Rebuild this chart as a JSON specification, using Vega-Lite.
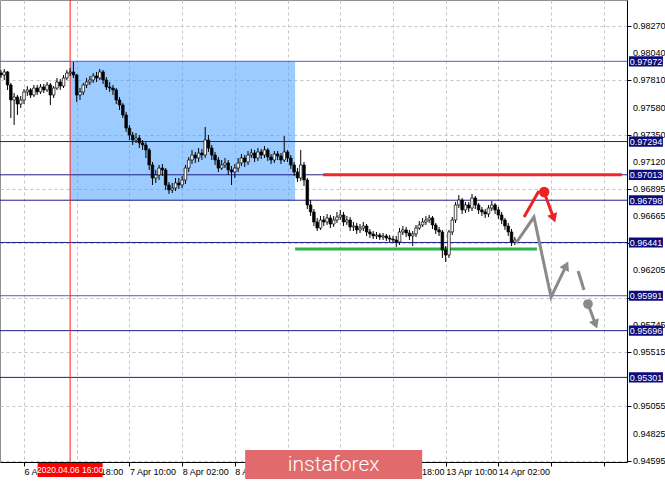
{
"$schema": "https://vega.github.io/schema/vega-lite/v6.json",
"width": 627, "height": 462, "autosize": "none",
"padding": {"left": 0, "top": 0, "right": 38, "bottom": 19},
"background": "#ffffff",
"view": {"stroke": "#909090", "strokeWidth": 1},
"config": {"scale": {"continuousPadding": 0}, "axis": {"labelOverlap": false, "labelBound": false, "labelFlush": false}},
"datasets": {
"candles": [
{"t":-7,"o":0.97873,"h":0.97899,"l":0.97831,"c":0.97856},
{"t":-6,"o":0.97856,"h":0.97907,"l":0.97814,"c":0.97882},
{"t":-5,"o":0.97882,"h":0.97890,"l":0.97730,"c":0.97772},
{"t":-4,"o":0.97772,"h":0.97789,"l":0.97493,"c":0.97645},
{"t":-3,"o":0.97645,"h":0.97704,"l":0.97434,"c":0.97670},
{"t":-2,"o":0.97670,"h":0.97687,"l":0.97518,"c":0.97611},
{"t":-1,"o":0.97611,"h":0.97679,"l":0.97577,"c":0.97645},
{"t":0,"o":0.97645,"h":0.97738,"l":0.97611,"c":0.97713},
{"t":1,"o":0.97713,"h":0.97763,"l":0.97679,"c":0.97730},
{"t":2,"o":0.97730,"h":0.97746,"l":0.97662,"c":0.97687},
{"t":3,"o":0.97687,"h":0.97772,"l":0.97670,"c":0.97746},
{"t":4,"o":0.97746,"h":0.97772,"l":0.97687,"c":0.97713},
{"t":5,"o":0.97713,"h":0.97780,"l":0.97696,"c":0.97755},
{"t":6,"o":0.97755,"h":0.97780,"l":0.97704,"c":0.97730},
{"t":7,"o":0.97730,"h":0.97797,"l":0.97713,"c":0.97772},
{"t":8,"o":0.97772,"h":0.97789,"l":0.97603,"c":0.97687},
{"t":9,"o":0.97687,"h":0.97763,"l":0.97662,"c":0.97746},
{"t":10,"o":0.97746,"h":0.97831,"l":0.97730,"c":0.97797},
{"t":11,"o":0.97797,"h":0.97822,"l":0.97730,"c":0.97763},
{"t":12,"o":0.97763,"h":0.97856,"l":0.97746,"c":0.97831},
{"t":13,"o":0.97831,"h":0.97899,"l":0.97814,"c":0.97873},
{"t":14,"o":0.97873,"h":0.97915,"l":0.97848,"c":0.97882},
{"t":15,"o":0.97882,"h":0.97966,"l":0.97831,"c":0.97856},
{"t":16,"o":0.97856,"h":0.97865,"l":0.97628,"c":0.97687},
{"t":17,"o":0.97687,"h":0.97746,"l":0.97645,"c":0.97713},
{"t":18,"o":0.97713,"h":0.97789,"l":0.97687,"c":0.97772},
{"t":19,"o":0.97772,"h":0.97831,"l":0.97746,"c":0.97797},
{"t":20,"o":0.97797,"h":0.97848,"l":0.97772,"c":0.97814},
{"t":21,"o":0.97814,"h":0.97873,"l":0.97789,"c":0.97848},
{"t":22,"o":0.97848,"h":0.97882,"l":0.97797,"c":0.97831},
{"t":23,"o":0.97831,"h":0.97907,"l":0.97814,"c":0.97882},
{"t":24,"o":0.97882,"h":0.97899,"l":0.97780,"c":0.97814},
{"t":25,"o":0.97814,"h":0.97839,"l":0.97730,"c":0.97755},
{"t":26,"o":0.97755,"h":0.97797,"l":0.97713,"c":0.97746},
{"t":27,"o":0.97746,"h":0.97772,"l":0.97687,"c":0.97730},
{"t":28,"o":0.97730,"h":0.97746,"l":0.97611,"c":0.97645},
{"t":29,"o":0.97645,"h":0.97670,"l":0.97561,"c":0.97603},
{"t":30,"o":0.97603,"h":0.97620,"l":0.97493,"c":0.97518},
{"t":31,"o":0.97518,"h":0.97544,"l":0.97375,"c":0.97408},
{"t":32,"o":0.97408,"h":0.97434,"l":0.97307,"c":0.97349},
{"t":33,"o":0.97349,"h":0.97375,"l":0.97265,"c":0.97307},
{"t":34,"o":0.97307,"h":0.97366,"l":0.97282,"c":0.97324},
{"t":35,"o":0.97324,"h":0.97349,"l":0.97239,"c":0.97282},
{"t":36,"o":0.97282,"h":0.97307,"l":0.97223,"c":0.97265},
{"t":37,"o":0.97265,"h":0.97290,"l":0.97155,"c":0.97223},
{"t":38,"o":0.97223,"h":0.97239,"l":0.97054,"c":0.97096},
{"t":39,"o":0.97096,"h":0.97121,"l":0.96927,"c":0.96986},
{"t":40,"o":0.96986,"h":0.97054,"l":0.96944,"c":0.97011},
{"t":41,"o":0.97011,"h":0.97096,"l":0.96969,"c":0.97070},
{"t":42,"o":0.97070,"h":0.97104,"l":0.97003,"c":0.97054},
{"t":43,"o":0.97054,"h":0.97070,"l":0.96885,"c":0.96927},
{"t":44,"o":0.96927,"h":0.96952,"l":0.96851,"c":0.96885},
{"t":45,"o":0.96885,"h":0.96944,"l":0.96859,"c":0.96901},
{"t":46,"o":0.96901,"h":0.96986,"l":0.96876,"c":0.96944},
{"t":47,"o":0.96944,"h":0.96986,"l":0.96893,"c":0.96927},
{"t":48,"o":0.96927,"h":0.97003,"l":0.96901,"c":0.96969},
{"t":49,"o":0.96969,"h":0.97096,"l":0.96935,"c":0.97070},
{"t":50,"o":0.97070,"h":0.97163,"l":0.97037,"c":0.97138},
{"t":51,"o":0.97138,"h":0.97223,"l":0.97104,"c":0.97180},
{"t":52,"o":0.97180,"h":0.97206,"l":0.97113,"c":0.97155},
{"t":53,"o":0.97155,"h":0.97239,"l":0.97121,"c":0.97197},
{"t":54,"o":0.97197,"h":0.97231,"l":0.97138,"c":0.97180},
{"t":55,"o":0.97180,"h":0.97417,"l":0.97155,"c":0.97307},
{"t":56,"o":0.97307,"h":0.97349,"l":0.97206,"c":0.97239},
{"t":57,"o":0.97239,"h":0.97265,"l":0.97138,"c":0.97180},
{"t":58,"o":0.97180,"h":0.97206,"l":0.97096,"c":0.97138},
{"t":59,"o":0.97138,"h":0.97163,"l":0.97037,"c":0.97070},
{"t":60,"o":0.97070,"h":0.97138,"l":0.97054,"c":0.97096},
{"t":61,"o":0.97096,"h":0.97155,"l":0.97070,"c":0.97113},
{"t":62,"o":0.97113,"h":0.97138,"l":0.97011,"c":0.97054},
{"t":63,"o":0.97054,"h":0.97087,"l":0.96927,"c":0.97037},
{"t":64,"o":0.97037,"h":0.97104,"l":0.96986,"c":0.97070},
{"t":65,"o":0.97070,"h":0.97155,"l":0.97037,"c":0.97113},
{"t":66,"o":0.97113,"h":0.97189,"l":0.97087,"c":0.97155},
{"t":67,"o":0.97155,"h":0.97180,"l":0.97079,"c":0.97121},
{"t":68,"o":0.97121,"h":0.97214,"l":0.97096,"c":0.97180},
{"t":69,"o":0.97180,"h":0.97231,"l":0.97155,"c":0.97197},
{"t":70,"o":0.97197,"h":0.97223,"l":0.97121,"c":0.97155},
{"t":71,"o":0.97155,"h":0.97239,"l":0.97130,"c":0.97206},
{"t":72,"o":0.97206,"h":0.97231,"l":0.97146,"c":0.97180},
{"t":73,"o":0.97180,"h":0.97256,"l":0.97155,"c":0.97223},
{"t":74,"o":0.97223,"h":0.97239,"l":0.97130,"c":0.97163},
{"t":75,"o":0.97163,"h":0.97189,"l":0.97104,"c":0.97138},
{"t":76,"o":0.97138,"h":0.97214,"l":0.97113,"c":0.97189},
{"t":77,"o":0.97189,"h":0.97214,"l":0.97138,"c":0.97172},
{"t":78,"o":0.97172,"h":0.97197,"l":0.97104,"c":0.97138},
{"t":79,"o":0.97138,"h":0.97341,"l":0.97121,"c":0.97206},
{"t":80,"o":0.97206,"h":0.97223,"l":0.97121,"c":0.97155},
{"t":81,"o":0.97155,"h":0.97180,"l":0.97062,"c":0.97096},
{"t":82,"o":0.97096,"h":0.97121,"l":0.97003,"c":0.97037},
{"t":83,"o":0.97037,"h":0.97070,"l":0.96952,"c":0.96986},
{"t":84,"o":0.96986,"h":0.97223,"l":0.96961,"c":0.97096},
{"t":85,"o":0.97096,"h":0.97121,"l":0.96918,"c":0.96969},
{"t":86,"o":0.96969,"h":0.96986,"l":0.96724,"c":0.96758},
{"t":87,"o":0.96758,"h":0.96800,"l":0.96665,"c":0.96699},
{"t":88,"o":0.96699,"h":0.96724,"l":0.96580,"c":0.96614},
{"t":89,"o":0.96614,"h":0.96648,"l":0.96538,"c":0.96563},
{"t":90,"o":0.96563,"h":0.96665,"l":0.96547,"c":0.96631},
{"t":91,"o":0.96631,"h":0.96665,"l":0.96580,"c":0.96614},
{"t":92,"o":0.96614,"h":0.96682,"l":0.96589,"c":0.96648},
{"t":93,"o":0.96648,"h":0.96673,"l":0.96563,"c":0.96597},
{"t":94,"o":0.96597,"h":0.96665,"l":0.96572,"c":0.96631},
{"t":95,"o":0.96631,"h":0.96699,"l":0.96606,"c":0.96656},
{"t":96,"o":0.96656,"h":0.96716,"l":0.96631,"c":0.96673},
{"t":97,"o":0.96673,"h":0.96699,"l":0.96580,"c":0.96614},
{"t":98,"o":0.96614,"h":0.96665,"l":0.96589,"c":0.96631},
{"t":99,"o":0.96631,"h":0.96656,"l":0.96538,"c":0.96572},
{"t":100,"o":0.96572,"h":0.96614,"l":0.96538,"c":0.96580},
{"t":101,"o":0.96580,"h":0.96606,"l":0.96513,"c":0.96547},
{"t":102,"o":0.96547,"h":0.96597,"l":0.96521,"c":0.96563},
{"t":103,"o":0.96563,"h":0.96614,"l":0.96538,"c":0.96580},
{"t":104,"o":0.96580,"h":0.96597,"l":0.96496,"c":0.96530},
{"t":105,"o":0.96530,"h":0.96555,"l":0.96479,"c":0.96513},
{"t":106,"o":0.96513,"h":0.96538,"l":0.96470,"c":0.96496},
{"t":107,"o":0.96496,"h":0.96530,"l":0.96470,"c":0.96504},
{"t":108,"o":0.96504,"h":0.96521,"l":0.96462,"c":0.96487},
{"t":109,"o":0.96487,"h":0.96521,"l":0.96462,"c":0.96496},
{"t":110,"o":0.96496,"h":0.96513,"l":0.96454,"c":0.96479},
{"t":111,"o":0.96479,"h":0.96504,"l":0.96445,"c":0.96470},
{"t":112,"o":0.96470,"h":0.96496,"l":0.96437,"c":0.96462},
{"t":113,"o":0.96462,"h":0.96496,"l":0.96403,"c":0.96445},
{"t":114,"o":0.96445,"h":0.96563,"l":0.96420,"c":0.96530},
{"t":115,"o":0.96530,"h":0.96580,"l":0.96504,"c":0.96547},
{"t":116,"o":0.96547,"h":0.96572,"l":0.96487,"c":0.96521},
{"t":117,"o":0.96521,"h":0.96547,"l":0.96462,"c":0.96496},
{"t":118,"o":0.96496,"h":0.96538,"l":0.96411,"c":0.96513},
{"t":119,"o":0.96513,"h":0.96589,"l":0.96487,"c":0.96563},
{"t":120,"o":0.96563,"h":0.96623,"l":0.96547,"c":0.96589},
{"t":121,"o":0.96589,"h":0.96648,"l":0.96572,"c":0.96614},
{"t":122,"o":0.96614,"h":0.96665,"l":0.96589,"c":0.96631},
{"t":123,"o":0.96631,"h":0.96673,"l":0.96606,"c":0.96648},
{"t":124,"o":0.96648,"h":0.96665,"l":0.96555,"c":0.96589},
{"t":125,"o":0.96589,"h":0.96606,"l":0.96513,"c":0.96547},
{"t":126,"o":0.96547,"h":0.96572,"l":0.96496,"c":0.96530},
{"t":127,"o":0.96530,"h":0.96547,"l":0.96310,"c":0.96378},
{"t":128,"o":0.96378,"h":0.96411,"l":0.96276,"c":0.96335},
{"t":129,"o":0.96335,"h":0.96547,"l":0.96310,"c":0.96530},
{"t":130,"o":0.96530,"h":0.96656,"l":0.96504,"c":0.96631},
{"t":131,"o":0.96631,"h":0.96783,"l":0.96606,"c":0.96758},
{"t":132,"o":0.96758,"h":0.96842,"l":0.96732,"c":0.96800},
{"t":133,"o":0.96800,"h":0.96817,"l":0.96682,"c":0.96716},
{"t":134,"o":0.96716,"h":0.96783,"l":0.96690,"c":0.96758},
{"t":135,"o":0.96758,"h":0.96783,"l":0.96699,"c":0.96732},
{"t":136,"o":0.96732,"h":0.96851,"l":0.96707,"c":0.96817},
{"t":137,"o":0.96817,"h":0.96834,"l":0.96724,"c":0.96758},
{"t":138,"o":0.96758,"h":0.96775,"l":0.96682,"c":0.96716},
{"t":139,"o":0.96716,"h":0.96741,"l":0.96665,"c":0.96699},
{"t":140,"o":0.96699,"h":0.96724,"l":0.96648,"c":0.96682},
{"t":141,"o":0.96682,"h":0.96758,"l":0.96656,"c":0.96732},
{"t":142,"o":0.96732,"h":0.96792,"l":0.96707,"c":0.96758},
{"t":143,"o":0.96758,"h":0.96775,"l":0.96682,"c":0.96716},
{"t":144,"o":0.96716,"h":0.96741,"l":0.96639,"c":0.96673},
{"t":145,"o":0.96673,"h":0.96699,"l":0.96597,"c":0.96631},
{"t":146,"o":0.96631,"h":0.96648,"l":0.96547,"c":0.96580},
{"t":147,"o":0.96580,"h":0.96606,"l":0.96496,"c":0.96530},
{"t":148,"o":0.96530,"h":0.96555,"l":0.96411,"c":0.96445},
{"t":149,"o":0.96445,"h":0.96487,"l":0.96420,"c":0.96462}
],
"levels": [
{"p":0.97972,"lab":"0.97972"},
{"p":0.97294,"lab":"0.97294"},
{"p":0.97013,"lab":"0.97013"},
{"p":0.96798,"lab":"0.96798"},
{"p":0.96441,"lab":"0.96441"},
{"p":0.95991,"lab":"0.95991"},
{"p":0.95696,"lab":"0.95696"},
{"p":0.95301,"lab":"0.95301"}
],
"yticks": [
{"v":0.9827},{"v":0.9804},{"v":0.9781},{"v":0.9758},{"v":0.9735},{"v":0.9712},{"v":0.96895},{"v":0.96665},
{"v":0.96205},{"v":0.95745},{"v":0.95515},{"v":0.95055},{"v":0.94825},{"v":0.94595}
],
"arrows": [
{"g":"gray1","o":1,"t":149.4,"p":0.96437},
{"g":"gray1","o":2,"t":154.8,"p":0.96656},
{"g":"gray1","o":3,"t":160.0,"p":0.95980},
{"g":"gray1","o":4,"t":164.6,"p":0.96246},
{"g":"gray2","o":1,"t":168.2,"p":0.96200},
{"g":"gray2","o":2,"t":170.0,"p":0.96040},
{"g":"gray3","o":1,"t":171.2,"p":0.95921},
{"g":"gray3","o":2,"t":173.5,"p":0.95750},
{"g":"red1","o":1,"t":151.8,"p":0.96656},
{"g":"red1","o":2,"t":156.3,"p":0.96876},
{"g":"red2","o":1,"t":158.2,"p":0.96842},
{"g":"red2","o":2,"t":160.8,"p":0.96645}
]
},
"layer": [
{
"data": {"values": [{"t1": 14, "t2": 82.3, "p1": 0.97972, "p2": 0.96798}]},
"mark": {"type": "rect", "fill": "#4aa3ff", "opacity": 0.55},
"encoding": {
"x": {"field": "t1", "type": "quantitative", "title": null, "scale": {"domain": [-7.29, 183.05], "nice": false, "zero": false, "padding": 0},
"axis": {"title": null, "orient": "bottom", "values": [-16,-8,0,8,16,24,32,40,48,56,64,72,80,88,96,104,112,120,128,136,144,152,160,168,176],
"labelExpr": "datum.value==-16?'3 Apr 10:00':datum.value==0?'6 Apr 02:00':datum.value==16?'6 Apr 18:00':datum.value==32?'7 Apr 10:00':datum.value==48?'8 Apr 02:00':datum.value==64?'8 Apr 18:00':datum.value==112?'10 Apr 18:00':datum.value==128?'13 Apr 10:00':datum.value==144?'14 Apr 02:00':''",
"grid": true, "gridColor": "#c4c4c4", "gridDash": [3, 3], "domainColor": "#000000", "tickColor": "#000000", "tickSize": 4,
"labelAlign": "left", "labelBaseline": "top", "labelPadding": 1, "labelFont": "Liberation Sans", "labelFontSize": 9, "labelColor": "#000000",
"labelOverlap": false, "labelBound": false, "labelFlush": false}},
"x2": {"field": "t2"},
"y": {"field": "p1", "type": "quantitative", "title": null, "scale": {"domain": [0.94586, 0.9849], "nice": false, "zero": false, "padding": 0},
"axis": {"title": null, "orient": "right", "values": [0.9827,0.9804,0.9781,0.9758,0.9735,0.9712,0.96895,0.96665,0.96435,0.96205,0.95975,0.95745,0.95515,0.95285,0.95055,0.94825,0.94595],
"grid": true, "gridColor": "#c4c4c4", "gridDash": [3, 3], "domainColor": "#000000", "tickColor": "#000000", "tickSize": 4, "labels": false}},
"y2": {"field": "p2"}
}
},
{
"data": {"name": "yticks"},
"mark": {"type": "text", "color": "#000000", "font": "Liberation Sans", "fontSize": 9, "align": "left", "baseline": "middle", "dx": 6},
"encoding": {"x": {"datum": 183.05, "type": "quantitative", "title": null, "scale": {"domain": [-7.29, 183.05], "nice": false, "zero": false, "padding": 0}},
"y": {"field": "v", "type": "quantitative", "title": null, "scale": {"domain": [0.94586, 0.9849], "nice": false, "zero": false, "padding": 0}},
"text": {"field": "v", "type": "quantitative", "format": ".5f"}}
},
{
"data": {"name": "levels"},
"transform": [{"filter": "datum.p == 0.97972 || datum.p == 0.95991"}],
"mark": {"type": "rule", "color": "#5a5ad0", "strokeWidth": 1},
"encoding": {"y": {"field": "p", "type": "quantitative", "title": null, "scale": {"domain": [0.94586, 0.9849], "nice": false, "zero": false, "padding": 0}}}
},
{
"data": {"name": "levels"},
"transform": [{"filter": "datum.p != 0.97972 && datum.p != 0.95991"}],
"mark": {"type": "rule", "color": "#1f1f88", "strokeWidth": 1},
"encoding": {"y": {"field": "p", "type": "quantitative", "title": null, "scale": {"domain": [0.94586, 0.9849], "nice": false, "zero": false, "padding": 0}}}
},
{
"data": {"values": [{"t": 14}]},
"mark": {"type": "rule", "color": "#ff1a1a", "strokeWidth": 1},
"encoding": {"x": {"field": "t", "type": "quantitative", "title": null, "scale": {"domain": [-7.29, 183.05], "nice": false, "zero": false, "padding": 0}}}
},
{
"data": {"values": [{"t1": 90.8, "t2": 181.5, "p": 0.97013}]},
"mark": {"type": "rule", "color": "#f02828", "strokeWidth": 3},
"encoding": {"x": {"field": "t1", "type": "quantitative", "title": null, "scale": {"domain": [-7.29, 183.05], "nice": false, "zero": false, "padding": 0}}, "x2": {"field": "t2"},
"y": {"field": "p", "type": "quantitative", "title": null, "scale": {"domain": [0.94586, 0.9849], "nice": false, "zero": false, "padding": 0}}}
},
{
"data": {"values": [{"t1": 82.3, "t2": 155.7, "p": 0.96386}]},
"mark": {"type": "rule", "color": "#2eb24a", "strokeWidth": 3},
"encoding": {"x": {"field": "t1", "type": "quantitative", "title": null, "scale": {"domain": [-7.29, 183.05], "nice": false, "zero": false, "padding": 0}}, "x2": {"field": "t2"},
"y": {"field": "p", "type": "quantitative", "title": null, "scale": {"domain": [0.94586, 0.9849], "nice": false, "zero": false, "padding": 0}}}
},
{
"data": {"name": "candles"},
"mark": {"type": "rule", "color": "#000000", "strokeWidth": 1},
"encoding": {"x": {"field": "t", "type": "quantitative", "title": null, "scale": {"domain": [-7.29, 183.05], "nice": false, "zero": false, "padding": 0}},
"y": {"field": "l", "type": "quantitative", "title": null, "scale": {"domain": [0.94586, 0.9849], "nice": false, "zero": false, "padding": 0}}, "y2": {"field": "h"}}
},
{
"data": {"name": "candles"},
"mark": {"type": "bar", "size": 2.6, "stroke": "#000000", "strokeWidth": 0.7},
"encoding": {"x": {"field": "t", "type": "quantitative", "title": null, "scale": {"domain": [-7.29, 183.05], "nice": false, "zero": false, "padding": 0}},
"y": {"field": "o", "type": "quantitative", "title": null, "scale": {"domain": [0.94586, 0.9849], "nice": false, "zero": false, "padding": 0}}, "y2": {"field": "c"},
"fill": {"condition": {"test": "datum.c < datum.o", "value": "#000000"}, "value": "#ffffff"}}
},
{
"data": {"name": "arrows"},
"transform": [{"filter": "indexof(datum.g, 'gray') == 0"}],
"mark": {"type": "line", "color": "#8a8a8a", "strokeWidth": 3, "strokeCap": "butt"},
"encoding": {"x": {"field": "t", "type": "quantitative", "title": null, "scale": {"domain": [-7.29, 183.05], "nice": false, "zero": false, "padding": 0}},
"y": {"field": "p", "type": "quantitative", "title": null, "scale": {"domain": [0.94586, 0.9849], "nice": false, "zero": false, "padding": 0}}, "detail": {"field": "g"}, "order": {"field": "o"}}
},
{
"data": {"name": "arrows"},
"transform": [{"filter": "indexof(datum.g, 'red') == 0"}],
"mark": {"type": "line", "color": "#ee2222", "strokeWidth": 3, "strokeCap": "butt"},
"encoding": {"x": {"field": "t", "type": "quantitative", "title": null, "scale": {"domain": [-7.29, 183.05], "nice": false, "zero": false, "padding": 0}},
"y": {"field": "p", "type": "quantitative", "title": null, "scale": {"domain": [0.94586, 0.9849], "nice": false, "zero": false, "padding": 0}}, "detail": {"field": "g"}, "order": {"field": "o"}}
},
{
"data": {"values": [{"t": 164.6, "p": 0.96246}]},
"mark": {"type": "point", "shape": "triangle-up", "filled": true, "color": "#8a8a8a", "size": 110, "angle": 26, "opacity": 1},
"encoding": {"x": {"field": "t", "type": "quantitative", "title": null, "scale": {"domain": [-7.29, 183.05], "nice": false, "zero": false, "padding": 0}},
"y": {"field": "p", "type": "quantitative", "title": null, "scale": {"domain": [0.94586, 0.9849], "nice": false, "zero": false, "padding": 0}}}
},
{
"data": {"values": [{"t": 173.5, "p": 0.9575}]},
"mark": {"type": "point", "shape": "triangle-up", "filled": true, "color": "#8a8a8a", "size": 110, "angle": 159, "opacity": 1},
"encoding": {"x": {"field": "t", "type": "quantitative", "title": null, "scale": {"domain": [-7.29, 183.05], "nice": false, "zero": false, "padding": 0}},
"y": {"field": "p", "type": "quantitative", "title": null, "scale": {"domain": [0.94586, 0.9849], "nice": false, "zero": false, "padding": 0}}}
},
{
"data": {"values": [{"t": 160.8, "p": 0.96645}]},
"mark": {"type": "point", "shape": "triangle-up", "filled": true, "color": "#ee2222", "size": 110, "angle": 160, "opacity": 1},
"encoding": {"x": {"field": "t", "type": "quantitative", "title": null, "scale": {"domain": [-7.29, 183.05], "nice": false, "zero": false, "padding": 0}},
"y": {"field": "p", "type": "quantitative", "title": null, "scale": {"domain": [0.94586, 0.9849], "nice": false, "zero": false, "padding": 0}}}
},
{
"data": {"values": [{"t": 171.2, "p": 0.95921}]},
"mark": {"type": "point", "shape": "circle", "filled": true, "color": "#8a8a8a", "size": 95, "opacity": 1},
"encoding": {"x": {"field": "t", "type": "quantitative", "title": null, "scale": {"domain": [-7.29, 183.05], "nice": false, "zero": false, "padding": 0}},
"y": {"field": "p", "type": "quantitative", "title": null, "scale": {"domain": [0.94586, 0.9849], "nice": false, "zero": false, "padding": 0}}}
},
{
"data": {"values": [{"t": 157.9, "p": 0.96868}]},
"mark": {"type": "point", "shape": "circle", "filled": true, "color": "#ee2222", "size": 110, "opacity": 1},
"encoding": {"x": {"field": "t", "type": "quantitative", "title": null, "scale": {"domain": [-7.29, 183.05], "nice": false, "zero": false, "padding": 0}},
"y": {"field": "p", "type": "quantitative", "title": null, "scale": {"domain": [0.94586, 0.9849], "nice": false, "zero": false, "padding": 0}}}
},
{
"data": {"name": "levels"},
"mark": {"type": "point", "shape": "M-1,-0.3L1,-0.3L1,0.3L-1,0.3Z", "filled": true, "color": "#0c0c7c", "size": 1156, "opacity": 1},
"encoding": {"x": {"datum": 188.8, "type": "quantitative", "title": null, "scale": {"domain": [-7.29, 183.05], "nice": false, "zero": false, "padding": 0}},
"y": {"field": "p", "type": "quantitative", "title": null, "scale": {"domain": [0.94586, 0.9849], "nice": false, "zero": false, "padding": 0}}}
},
{
"data": {"name": "levels"},
"mark": {"type": "text", "color": "#ffffff", "font": "Liberation Sans", "fontSize": 9, "align": "center", "baseline": "middle", "dy": 0.5},
"encoding": {"x": {"datum": 188.8, "type": "quantitative", "title": null, "scale": {"domain": [-7.29, 183.05], "nice": false, "zero": false, "padding": 0}},
"y": {"field": "p", "type": "quantitative", "title": null, "scale": {"domain": [0.94586, 0.9849], "nice": false, "zero": false, "padding": 0}}, "text": {"field": "lab"}}
},
{
"data": {"values": [{"t": 14, "p": 0.94519, "lab": "2020.04.06 16:00"}]},
"mark": {"type": "point", "shape": "M-1,-0.215L1,-0.215L1,0.215L-1,0.215Z", "filled": true, "color": "#ff0000", "size": 4225, "opacity": 1},
"encoding": {"x": {"field": "t", "type": "quantitative", "title": null, "scale": {"domain": [-7.29, 183.05], "nice": false, "zero": false, "padding": 0}},
"y": {"field": "p", "type": "quantitative", "title": null, "scale": {"domain": [0.94586, 0.9849], "nice": false, "zero": false, "padding": 0}}}
},
{
"data": {"values": [{"t": 14, "p": 0.94519, "lab": "2020.04.06 16:00"}]},
"mark": {"type": "text", "color": "#ffffff", "font": "Liberation Sans", "fontSize": 8.5, "align": "center", "baseline": "middle"},
"encoding": {"x": {"field": "t", "type": "quantitative", "title": null, "scale": {"domain": [-7.29, 183.05], "nice": false, "zero": false, "padding": 0}},
"y": {"field": "p", "type": "quantitative", "title": null, "scale": {"domain": [0.94586, 0.9849], "nice": false, "zero": false, "padding": 0}}, "text": {"field": "lab"}}
},
{
"data": {"values": [{"t": 94.0, "p": 0.94565, "lab": "instaforex"}]},
"mark": {"type": "point", "shape": "M-1,-0.164L1,-0.164L1,0.164L-1,0.164Z", "filled": true, "color": "#e06a6c", "size": 31329, "opacity": 1},
"encoding": {"x": {"field": "t", "type": "quantitative", "title": null, "scale": {"domain": [-7.29, 183.05], "nice": false, "zero": false, "padding": 0}},
"y": {"field": "p", "type": "quantitative", "title": null, "scale": {"domain": [0.94586, 0.9849], "nice": false, "zero": false, "padding": 0}}}
},
{
"data": {"values": [{"t": 94.0, "p": 0.94565, "lab": "instaforex"}]},
"mark": {"type": "text", "color": "#ffffff", "font": "Roboto", "fontSize": 21, "fontWeight": 300, "align": "center", "baseline": "middle", "dy": 1},
"encoding": {"x": {"field": "t", "type": "quantitative", "title": null, "scale": {"domain": [-7.29, 183.05], "nice": false, "zero": false, "padding": 0}},
"y": {"field": "p", "type": "quantitative", "title": null, "scale": {"domain": [0.94586, 0.9849], "nice": false, "zero": false, "padding": 0}}, "text": {"field": "lab"}}
}
]
}
